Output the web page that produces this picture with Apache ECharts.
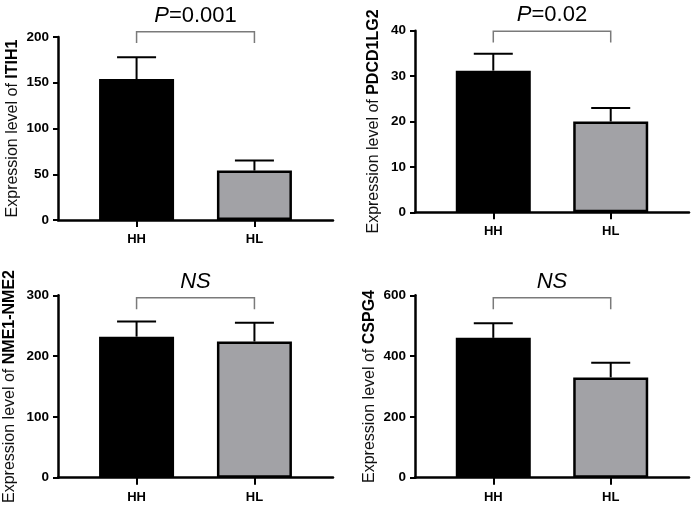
<!DOCTYPE html>
<html>
<head>
  <meta charset="utf-8" />
  <style>
    body, html { margin: 0; padding: 0; background: #fff; }
    #main { width: 692px; height: 512px; }
  </style>
  <script src="https://cdn.jsdelivr.net/npm/echarts@6/dist/echarts.min.js"></script>
</head>
<body>
<div id="main"></div>
<script>
  // data
  var groups = ['HH', 'HL'];
  var genes = ['ITIH1', 'PDCD1LG2', 'NME1-NME2', 'CSPG4'];
  var means = [[154, 54], [31.2, 20.0], [232, 224], [460, 330]];
  var errs = [[24, 11], [3.7, 3.0], [25, 31], [48, 48]];
  var pText = ['P=0.001', 'P=0.02', 'NS', 'NS'];
  var yMax = [200, 40, 300, 600];
  var yStep = [50, 10, 100, 200];
  var bracketAt = [[205.8, 193.4], [39.9, 37.4], [296, 277], [592, 554]];

  var FONT = '"Liberation Sans", Arial, sans-serif';
  var hlGrey = '#a2a2a6';

  // panel boxes: left, top, width, height
  var boxes = [
    [58, 37, 275, 183],
    [415, 30.7, 274, 181.6],
    [58, 295.3, 275, 182.4],
    [415, 295.3, 274, 182.4]
  ];
  var nameGaps = [37, 33, 40, 37];

  var chart = echarts.init(document.getElementById('main'));

  var grid = [], xAxis = [], yAxis = [], series = [];

  boxes.forEach(function (b, i) {
    grid.push({ left: b[0], top: b[1], width: b[2], height: b[3] });

    xAxis.push({
      gridIndex: i,
      type: 'value',
      min: 1 / 3,
      max: 8 / 3,
      axisLine: { lineStyle: { color: '#000', width: 2.5 } },
      axisTick: { show: true, inside: false, length: 7, lineStyle: { color: '#000', width: 2 }, customValues: [1, 2] },
      axisLabel: {
        customValues: [1, 2],
        margin: 13,
        color: '#000',
        fontFamily: FONT,
        fontWeight: 'bold',
        fontSize: 13,
        formatter: function (v) { return groups[Math.round(v) - 1] || ''; }
      },
      splitLine: { show: false }
    });

    yAxis.push({
      gridIndex: i,
      type: 'value',
      min: 0,
      max: yMax[i],
      interval: yStep[i],
      name: '{n|Expression level of }{b|' + genes[i] + '}',
      nameLocation: 'middle',
      nameGap: nameGaps[i],
      nameRotate: 90,
      nameTextStyle: {
        color: '#000',
        fontFamily: FONT,
        rich: {
          n: { fontSize: 16, fontFamily: FONT, color: '#111' },
          b: { fontSize: 16, fontFamily: FONT, fontWeight: 'bold', color: '#000' }
        }
      },
      axisLine: { show: true, lineStyle: { color: '#000', width: 2.5 } },
      axisTick: { show: true, length: 5, lineStyle: { color: '#000', width: 2 } },
      axisLabel: { margin: 9, color: '#000', fontFamily: FONT, fontWeight: 'bold', fontSize: 13.5 },
      splitLine: { show: false }
    });

    series.push({
      type: 'bar',
      xAxisIndex: i,
      yAxisIndex: i,
      barWidth: 75,
      data: means[i].map(function (m, k) {
        return {
          value: [k + 1, m],
          itemStyle: { color: k === 0 ? '#000' : hlGrey, borderColor: '#000', borderWidth: 2.5 }
        };
      })
    });

    // error bars (upper only)
    series.push({
      type: 'custom',
      xAxisIndex: i,
      yAxisIndex: i,
      data: means[i].map(function (m, k) { return [k + 1, m, m + errs[i][k]]; }),
      encode: { x: 0, y: [1, 2] },
      z: 5,
      renderItem: function (params, api) {
        var x = api.value(0);
        var p0 = api.coord([x, api.value(1)]);
        var p1 = api.coord([x, api.value(2)]);
        var style = { stroke: '#000', lineWidth: 2 };
        return {
          type: 'group',
          children: [
            { type: 'line', shape: { x1: p0[0], y1: p0[1], x2: p1[0], y2: p1[1] }, style: style },
            { type: 'line', shape: { x1: p1[0] - 19.5, y1: p1[1], x2: p1[0] + 19.5, y2: p1[1] }, style: style }
          ]
        };
      }
    });

    // significance bracket + label
    series.push({
      type: 'custom',
      xAxisIndex: i,
      yAxisIndex: i,
      data: [[1, 2, bracketAt[i][0], bracketAt[i][1]]],
      encode: { x: [0, 1], y: [2, 3] },
      z: 6,
      renderItem: function (params, api) {
        var a = api.coord([api.value(0), api.value(2)]);
        var b = api.coord([api.value(1), api.value(2)]);
        var la = api.coord([api.value(0), api.value(3)]);
        var lb = api.coord([api.value(1), api.value(3)]);
        var t = pText[i];
        var txt = t.charAt(0) === 'P' ? '{i|P}{r|' + t.slice(1) + '}' : '{i|' + t + '}';
        return {
          type: 'group',
          children: [
            {
              type: 'polyline',
              shape: { points: [la, a, b, lb] },
              style: { stroke: '#7a7a7a', lineWidth: 1.5, fill: null }
            },
            {
              type: 'text',
              x: (a[0] + b[0]) / 2,
              y: a[1] - 5,
              style: {
                text: txt,
                align: 'center',
                verticalAlign: 'bottom',
                rich: {
                  i: { fontSize: 22, fontStyle: 'italic', fontFamily: FONT, fill: '#000' },
                  r: { fontSize: 22, fontFamily: FONT, fill: '#000' }
                }
              }
            }
          ]
        };
      }
    });
  });

  chart.setOption({
    animation: false,
    backgroundColor: '#fff',
    grid: grid,
    xAxis: xAxis,
    yAxis: yAxis,
    series: series
  });
</script>
</body>
</html>
